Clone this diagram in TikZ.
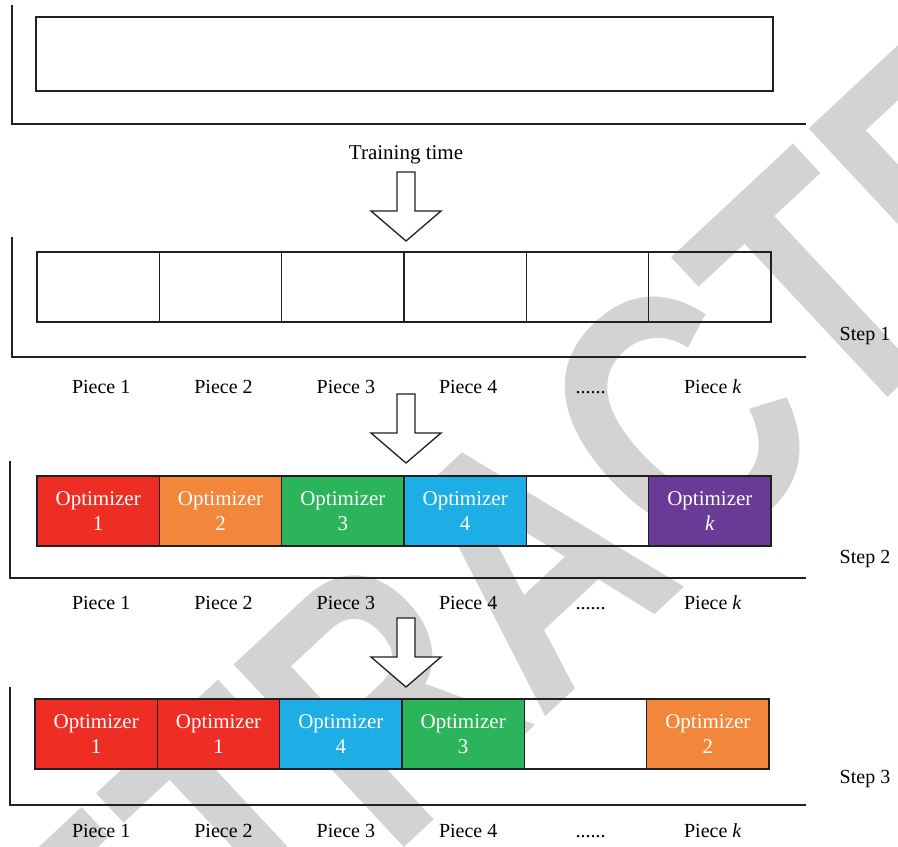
\documentclass[tikz,border=0pt]{standalone}
\usepackage{fontspec}
\setmainfont{Liberation Serif}
\newfontfamily\wmfont{Liberation Sans}
\usetikzlibrary{calc}

\definecolor{optred}{HTML}{EE2D24}
\definecolor{optorange}{HTML}{F2873C}
\definecolor{optgreen}{HTML}{2BB45A}
\definecolor{optblue}{HTML}{1DAEE5}
\definecolor{optpurple}{HTML}{6A3B96}
\definecolor{linegray}{HTML}{231F20}
\definecolor{wmgray}{HTML}{D3D3D3}

\newcommand{\sixdots}{......}

\begin{document}
\begin{tikzpicture}
[x=0.5pt,y=-0.5pt,line width=0.65pt,
 piece/.style={draw=linegray,rectangle,minimum width=61.2pt,minimum height=35pt,inner sep=0pt,outer sep=0pt},
 opt/.style={piece,fill=#1,text=white,align=center,font=\fontsize{10.5}{12.5}\selectfont},
 lbl/.style={anchor=base,font=\fontsize{10}{12}\selectfont},
 frame/.style={draw=linegray},
 hollow/.style={draw=linegray,fill=white,line join=miter},
]

\useasboundingbox (0,0) rectangle (898,846);

%Watermark
\node[text=wmgray,rotate=43,xscale=0.78,inner sep=0pt,font={\wmfont\bfseries\fontsize{181.5}{181.5}\selectfont}] (wm) at (530,560) {RETRACTED};

%Piece width and first centres
\def\w{122.33}
\def\xa{98.2}
\def\xb{96.2}

%Whole data
\node[piece,minimum width=368.5pt,minimum height=37pt] (data) at (404.5,54) {};
\draw[frame] (12,5) -- (12,124) -- (806,124);
\node[lbl,font=\fontsize{10.5}{12}\selectfont] (train) at (406,159) {Training time};

%Step 1
\foreach \i in {1,...,6}
  \node[piece] (a\i) at ({\xa+(\i-1)*\w},287) {};
\draw[frame] (12,237) -- (12,357) -- (806,357);
\node[lbl] (step1) at (865,340) {Step 1};

%Step 2
\foreach \i/\c/\t in {1/optred/1,2/optorange/2,3/optgreen/3,4/optblue/4,6/optpurple/\textit{k}}
  \node[opt=\c] (b\i) at ({\xa+(\i-1)*\w},511) {Optimizer\\\t};
\node[piece] (b5) at ({\xa+4*\w},511) {};
\draw[frame] (10,461) -- (10,578) -- (806,578);
\node[lbl] (step2) at (865,563) {Step 2};

%Step 3
\foreach \i/\c/\t in {1/optred/1,2/optred/1,3/optblue/4,4/optgreen/3,6/optorange/2}
  \node[opt=\c] (c\i) at ({\xb+(\i-1)*\w},734) {Optimizer\\\t};
\node[piece] (c5) at ({\xb+4*\w},734) {};
\draw[frame] (10,687) -- (10,805) -- (806,805);
\node[lbl] (step3) at (865,783) {Step 3};

%Piece labels
\foreach \r/\y in {a/393,b/609,c/837}
  \foreach \i/\t in {1/Piece 1,2/Piece 2,3/Piece 3,4/Piece 4,5/\sixdots,6/Piece \textit{k}}
    \node[lbl] (\r l\i) at ({\xa+(\i-1)*\w+3},\y) {\t};

%Hollow arrows
\foreach \n/\y in {1/241,2/463,3/687}{
  \coordinate (t\n) at (406,\y);
  \draw[hollow] (t\n) -- ++(-35,-30) -- ++(26,0) -- ++(0,-39) -- ++(18,0) -- ++(0,39) -- ++(26,0) -- cycle;
}

\end{tikzpicture}
\end{document}
